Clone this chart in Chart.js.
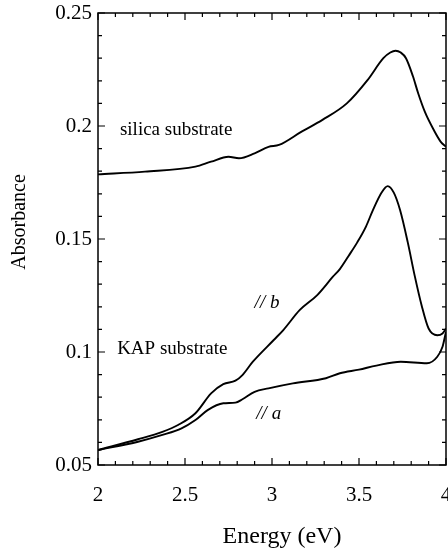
<!DOCTYPE html>
<html>
<head>
<meta charset="utf-8">
<script src="https://cdn.jsdelivr.net/npm/chart.js@4/dist/chart.umd.min.js"></script>
<style>
  html, body { margin: 0; padding: 0; background: #fff; }
  #wrap { width: 448px; height: 552px; position: relative; }
</style>
</head>
<body>
<div id="wrap"><canvas id="chart"></canvas></div>
<script>
/* Absorbance spectra: film on silica vs. KAP substrate (//a, //b). */

const silicaE = [2.0, 2.27, 2.56, 2.65, 2.75, 2.81, 2.9, 2.98, 3.04, 3.17, 3.29, 3.43, 3.55, 3.64, 3.68, 3.71, 3.74, 3.77, 3.81, 3.84, 3.88, 3.93, 3.97, 4.0];
const silicaA = [0.1786, 0.1798, 0.182, 0.1842, 0.1864, 0.1857, 0.1879, 0.1908, 0.1916, 0.1975, 0.2027, 0.210, 0.2204, 0.230, 0.2325, 0.2333, 0.2325, 0.230, 0.222, 0.2145, 0.206, 0.1982, 0.193, 0.1908];

const bE = [2.0, 2.23, 2.37, 2.46, 2.56, 2.65, 2.72, 2.79, 2.83, 2.89, 3.01, 3.065, 3.16, 3.26, 3.35, 3.39, 3.44, 3.49, 3.54, 3.58, 3.63, 3.665, 3.70, 3.736, 3.78, 3.82, 3.86, 3.9, 3.95, 3.98, 4.0];
const bA = [0.0566, 0.0614, 0.0647, 0.0677, 0.0729, 0.0817, 0.0858, 0.0873, 0.0898, 0.0957, 0.1053, 0.1097, 0.1186, 0.1252, 0.1333, 0.1367, 0.1425, 0.1485, 0.1555, 0.1628, 0.1706, 0.1734, 0.1705, 0.1628, 0.1486, 0.1338, 0.1206, 0.1104, 0.1074, 0.1082, 0.1104];

const aE = [2.0, 2.23, 2.37, 2.48, 2.56, 2.63, 2.72, 2.79, 2.83, 2.9, 2.98, 3.12, 3.31, 3.39, 3.5, 3.6, 3.74, 3.89, 3.95, 3.98, 4.0];
const aA = [0.0566, 0.0603, 0.0633, 0.0662, 0.0699, 0.0743, 0.0773, 0.0776, 0.0791, 0.0824, 0.0839, 0.0861, 0.0884, 0.0906, 0.0922, 0.0940, 0.0957, 0.095, 0.0979, 0.1023, 0.109];

const xTicks = [2, 2.5, 3, 3.5, 4];
const yTicks = [0.05, 0.1, 0.15, 0.2, 0.25];

// text labels, anchored at (energy, absorbance), left aligned
const noteText = ['silica substrate', 'KAP substrate', '// b', '// a'];
const noteE = [2.126, 2.11, 2.90, 2.91];
const noteA = [0.1982, 0.1013, 0.1217, 0.0726];
const noteItalic = [false, false, true, true];

const serif = '"Liberation Serif", "Times New Roman", serif';

function pts(xs, ys) {
    return xs.map((x, i) => ({ x: x, y: ys[i] }));
}

function series(label, xs, ys) {
    return {
        label: label,
        data: pts(xs, ys),
        borderColor: '#000',
        borderWidth: 1.9,
        pointRadius: 0,
        fill: false,
        cubicInterpolationMode: 'monotone'
    };
}

// inward ticks on all four sides, the box, axis titles and the text notes
const frameTicks = {
    id: 'frameTicks',
    afterDraw(chart) {
        const ctx = chart.ctx;
        const { left, right, top, bottom } = chart.chartArea;
        const xs = chart.scales.x, ys = chart.scales.y;
        ctx.save();
        ctx.strokeStyle = '#000';
        ctx.lineWidth = 1.5;
        ctx.strokeRect(left, top, right - left, bottom - top);
        ctx.lineWidth = 1.2;
        ctx.beginPath();
        for (let i = 0; i <= 20; i++) {
            const px = xs.getPixelForValue(2 + i * 0.1);
            const len = i % 5 === 0 ? 7 : 4;
            ctx.moveTo(px, bottom); ctx.lineTo(px, bottom - len);
            ctx.moveTo(px, top); ctx.lineTo(px, top + len);
        }
        for (let i = 0; i <= 20; i++) {
            const py = ys.getPixelForValue(0.05 + i * 0.01);
            const len = i % 5 === 0 ? 7 : 4;
            ctx.moveTo(left, py); ctx.lineTo(left + len, py);
            ctx.moveTo(right, py); ctx.lineTo(right - len, py);
        }
        ctx.stroke();

        ctx.fillStyle = '#000';
        ctx.textAlign = 'left';
        ctx.textBaseline = 'middle';
        noteText.forEach((t, i) => {
            ctx.font = (noteItalic[i] ? 'italic ' : '') + '19px ' + serif;
            ctx.fillText(t, xs.getPixelForValue(noteE[i]), ys.getPixelForValue(noteA[i]));
        });

        // x title sits a bit right of the axis middle in the original
        ctx.textAlign = 'center';
        ctx.font = '24px ' + serif;
        ctx.fillText('Energy (eV)', 282, 537);

        // y title sits a little above the middle of the axis
        ctx.translate(20, 222);
        ctx.rotate(-Math.PI / 2);
        ctx.font = '20px ' + serif;
        ctx.fillText('Absorbance', 0, 0);
        ctx.restore();
    }
};

new Chart(document.getElementById('chart'), {
    type: 'line',
    data: {
        datasets: [
            series('silica substrate', silicaE, silicaA),
            series('KAP // b', bE, bA),
            series('KAP // a', aE, aA)
        ]
    },
    options: {
        responsive: true,
        maintainAspectRatio: false,
        animation: false,
        layout: { padding: { top: 13, right: 2, left: 0, bottom: 0 } },
        plugins: { legend: { display: false }, tooltip: { enabled: false } },
        scales: {
            x: {
                type: 'linear',
                min: 2, max: 4,
                afterFit: s => { s.height = 87; s.paddingLeft = 0; s.paddingRight = 0; },
                afterBuildTicks: s => { s.ticks = xTicks.map(v => ({ value: v })); },
                grid: { display: false, drawTicks: false },
                border: { display: false },
                ticks: {
                    color: '#000',
                    padding: 18,
                    font: { family: serif, size: 21 },
                    callback: v => String(v)
                }
            },
            y: {
                type: 'linear',
                min: 0.05, max: 0.25,
                afterFit: s => { s.width = 98; s.paddingTop = 0; s.paddingBottom = 0; },
                afterBuildTicks: s => { s.ticks = yTicks.map(v => ({ value: v })); },
                grid: { display: false, drawTicks: false },
                border: { display: false },
                ticks: {
                    color: '#000',
                    padding: 6,
                    font: { family: serif, size: 21 },
                    callback: v => String(v)
                }
            }
        }
    },
    plugins: [frameTicks]
});
</script>
</body>
</html>
